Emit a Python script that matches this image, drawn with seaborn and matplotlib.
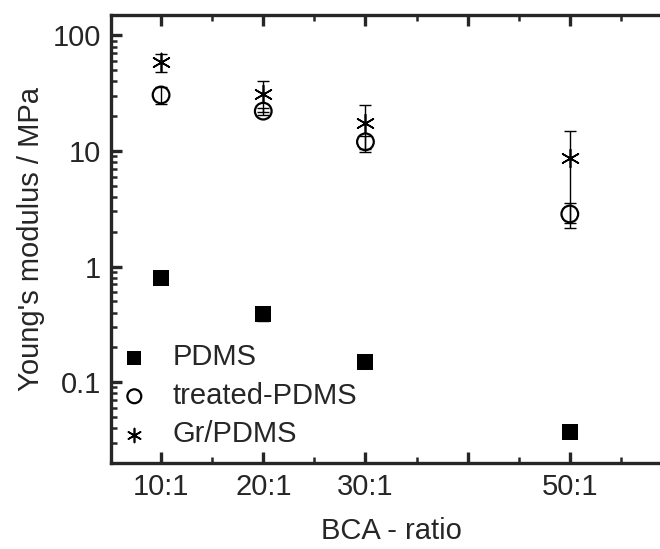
import numpy as np
import pandas as pd
import matplotlib
matplotlib.use("Agg")
import matplotlib.pyplot as plt
import seaborn as sns
from matplotlib.ticker import FixedLocator, LogLocator, NullFormatter, FixedFormatter

ratio_x = [10, 20, 30, 50]
ratio_labels = ["10:1", "20:1", "30:1", "50:1"]

pdms = [0.79, 0.39, 0.149, 0.037]
pdms_err = [0.02, 0.05, 0.005, 0.002]
treated = [30.5, 22.1, 12.0, 2.85]
treated_err = [5.0, 1.5, 1.5, 0.7]
gr = [59.0, 31.0, 17.4, 8.7]
gr_err = [10.5, 9.3, 7.6, 6.3]

sns.set_style("ticks")
plt.rcParams['font.family'] = ['Liberation Sans', 'DejaVu Sans']

fig = plt.figure(figsize=(6.6, 5.49), dpi=100)
ax = fig.add_axes([111/660, 86/549, 561/660, 448/549])

asterisk = (6, 2, 0)
series = [
    ("PDMS", pdms, pdms_err, "s", "black", 11, 0),
    ("treated-PDMS", treated, treated_err, "o", "none", 12, 1.6),
    ("Gr/PDMS", gr, gr_err, asterisk, "black", 13, 1.2),
]
for name, vals, errs, mk, fc, ms, lw in series:
    ax.errorbar(ratio_x, vals, yerr=errs, fmt="none", ecolor="black",
                elinewidth=1.0, capsize=4.5, capthick=1.0, zorder=2)
    df = pd.DataFrame({"x": ratio_x, "y": vals})
    sns.scatterplot(data=df, x="x", y="y", ax=ax, marker=mk,
                    s=ms**2, facecolor=fc,
                    edgecolor="black", linewidth=lw,
                    color="black", label=name, zorder=3)

ax.set_yscale("log")
ax.set_xlim(5.1, 60)
ax.set_ylim(0.02, 150)
ax.xaxis.set_major_locator(FixedLocator([10, 20, 30, 40, 50, 60]))
ax.xaxis.set_major_formatter(FixedFormatter(["10:1", "20:1", "30:1", "", "50:1", ""]))
ax.xaxis.set_minor_locator(FixedLocator([15, 25, 35, 45, 55]))
ax.yaxis.set_major_locator(FixedLocator([0.1, 1, 10, 100]))
ax.yaxis.set_major_formatter(FixedFormatter(["0.1", "1", "10", "100"]))
ax.yaxis.set_minor_locator(LogLocator(base=10, subs=np.arange(2, 10)))
ax.yaxis.set_minor_formatter(NullFormatter())

for s in ax.spines.values():
    s.set_linewidth(2.4)
ax.tick_params(which="major", direction="in", length=8, width=2.4,
               labelsize=21, top=True, right=False, pad=7)
ax.tick_params(which="minor", direction="in", length=4, width=1.8,
               top=True, right=False)

ax.set_xlabel("BCA - ratio", fontsize=21, labelpad=12)
ax.set_ylabel("Young's modulus / MPa", fontsize=21, labelpad=6)

leg = ax.legend(loc="lower left", bbox_to_anchor=(0.0, 0.013), frameon=False,
                fontsize=21, handletextpad=0.8, labelspacing=0.36,
                borderaxespad=0.0, borderpad=0.3, handlelength=1.0)
for h in leg.legend_handles:
    h.set_sizes([100])

fig.savefig("out.png", dpi=100)
